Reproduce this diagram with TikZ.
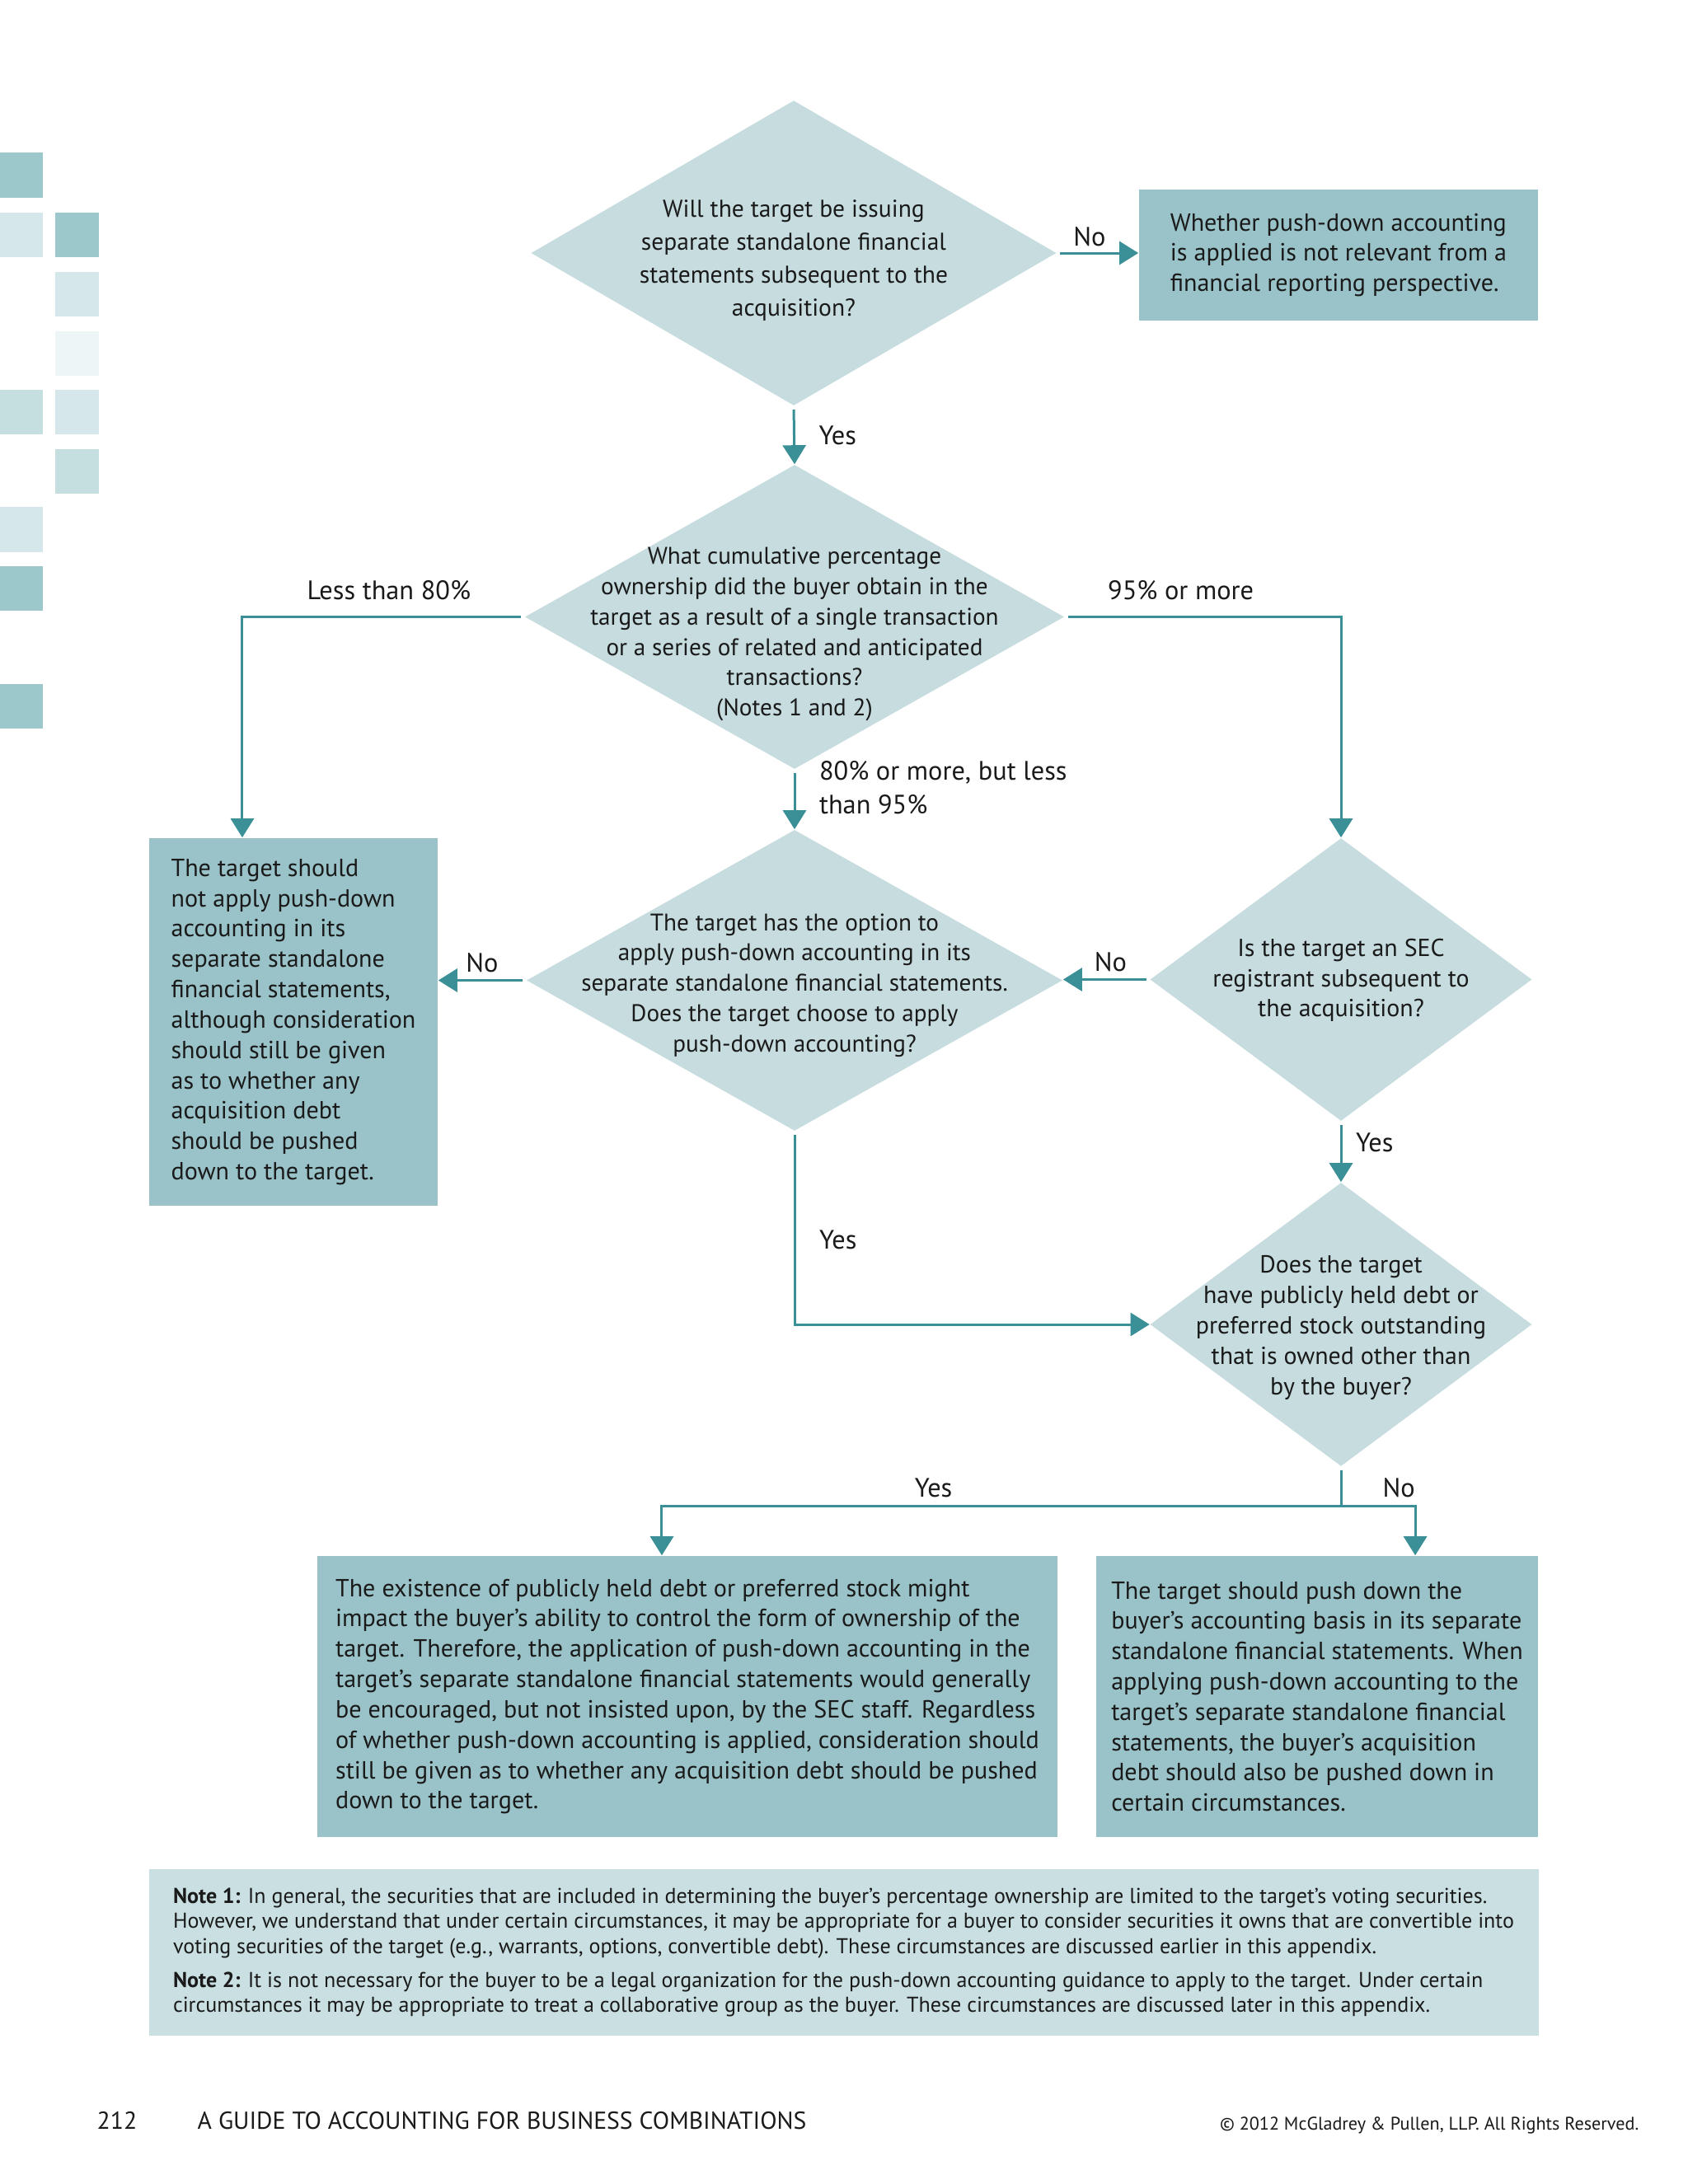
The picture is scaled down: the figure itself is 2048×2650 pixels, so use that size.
\documentclass[tikz,border=0pt]{standalone}
\usepackage{fontspec}
\setmainfont{PT Sans}
\usepackage{tikz}
\usetikzlibrary{positioning}
\usetikzlibrary{shapes,shapes.geometric,arrows.meta}
\definecolor{qfill}{HTML}{C6DCDF}
\definecolor{afill}{HTML}{99C3C8}
\definecolor{notefill}{HTML}{C9DFE1}
\definecolor{flowc}{HTML}{3A9096}
\definecolor{inktext}{HTML}{1A1A1A}
\definecolor{sqdark}{HTML}{9CC8CC}
\definecolor{sqmid}{HTML}{C5DEDF}
\definecolor{sqlight}{HTML}{D5E7EA}
\definecolor{sqpale}{HTML}{EEF5F6}
\newcommand{\qsize}{\fontsize{8.3}{10.47}\selectfont}
\newcommand{\qbigsize}{\fontsize{8.4}{11.4}\selectfont}
\newcommand{\qsecsize}{\fontsize{8.5}{10.47}\selectfont}
\newcommand{\boxsize}{\fontsize{8.55}{10.47}\selectfont}
\newcommand{\lblsize}{\fontsize{9.2}{11.7}\selectfont}
\newcommand{\notesize}{\fontsize{7.4}{8.65}\selectfont}
\newcommand{\footsize}{\fontsize{8.45}{10}\selectfont}
\newcommand{\copysize}{\fontsize{6.3}{7}\selectfont}
\tikzstyle{question} = [diamond, fill=qfill, draw=none, inner sep=0pt]
\tikzstyle{qtext}    = [align=center, font=\qsize, text=inktext]
\tikzstyle{outcome}  = [rectangle, fill=afill, draw=none, align=left, font=\boxsize, text=inktext, inner sep=0pt]
\tikzstyle{choice}   = [draw=none, fill=none, font=\lblsize, text=inktext, inner sep=1pt]
\tikzstyle{pagetext} = [draw=none, fill=none, text=inktext, inner sep=0pt]
\tikzstyle{flow}     = [draw=flowc, line width=0.03cm, -{Triangle[length=0.23cm,width=0.28cm]}]
\tikzstyle{qflow}    = [flow, shorten <=0.04cm]

\begin{document}
\begin{tikzpicture}[x=0.01cm, y=-0.01cm]
	% page
	\fill[white] (0,0) rectangle (2048,2650);
	\useasboundingbox (0,0) rectangle (2048,2650);

	% margin squares
	\fill[sqdark]  (0,185) rectangle (52,240);
	\fill[sqlight] (0,258) rectangle (52,312);
	\fill[sqdark]  (67,258) rectangle (120,312);
	\fill[sqlight] (67,330) rectangle (120,384);
	\fill[sqpale]  (67,402) rectangle (120,456);
	\fill[sqmid]   (0,473) rectangle (52,527);
	\fill[sqlight] (67,473) rectangle (120,527);
	\fill[sqmid]   (67,545) rectangle (120,599);
	\fill[sqlight] (0,615) rectangle (52,670);
	\fill[sqdark]  (0,687) rectangle (52,741);
	\fill[sqdark]  (0,830) rectangle (52,884);

	% questions
	\node [question, minimum width=6.37cm, minimum height=3.70cm,
	       label={[qtext, font=\qbigsize, yshift=-0.09cm]center:{Will the target be issuing\\separate standalone financial\\statements subsequent to the\\acquisition?}}]
	       (q1) at (963,307) {};
	\node [question, minimum width=6.54cm, minimum height=3.69cm,
	       label={[qtext, yshift=-0.21cm]center:{What cumulative percentage\\ownership did the buyer obtain in the\\target as a result of a single transaction\\or a series of related and anticipated\\transactions?\\(Notes 1 and 2)}}]
	       (q2) at (964,748.5) {};
	\node [question, minimum width=6.50cm, minimum height=3.65cm,
	       label={[qtext, yshift=-0.06cm]center:{The target has the option to\\apply push-down accounting in its\\separate standalone financial statements.\\Does the target choose to apply\\push-down accounting?}}]
	       (q3) at (964,1189.5) {};
	\node [question, minimum width=4.63cm, minimum height=3.43cm,
	       label={[qtext, font=\qsecsize, yshift=-0.01cm]center:{Is the target an SEC\\registrant subsequent to\\the acquisition?}}]
	       (q4) at (1627,1188.5) {};
	\node [question, minimum width=4.63cm, minimum height=3.44cm,
	       label={[qtext, font=\qsecsize, yshift=-0.04cm]center:{Does the target\\have publicly held debt or\\preferred stock outstanding\\that is owned other than\\by the buyer?}}]
	       (q5) at (1627,1607) {};

	% outcomes
	\node [outcome, minimum width=4.84cm, minimum height=1.59cm] (nrel) at (1624,309.5)
	      {Whether push-down accounting\\is applied is not relevant from a\\financial reporting perspective.};
	\node [outcome, minimum width=3.50cm, minimum height=4.46cm] (nopush) at (356,1240)
	      {The target should\\not apply push-down\\accounting in its\\separate standalone\\financial statements,\\although consideration\\should still be given\\as to whether any\\acquisition debt\\should be pushed\\down to the target.};
	\node [outcome, minimum width=8.98cm, minimum height=3.41cm] (pubdebt) at (834,2058.5)
	      {The existence of publicly held debt or preferred stock might\\impact the buyer’s ability to control the form of ownership of the\\target. Therefore, the application of push-down accounting in the\\target’s separate standalone financial statements would generally\\be encouraged, but not insisted upon, by the SEC staff. Regardless\\of whether push-down accounting is applied, consideration should\\still be given as to whether any acquisition debt should be pushed\\down to the target.};
	\node [outcome, minimum width=5.36cm, minimum height=3.41cm] (pushdown) at (1598,2058.5)
	      {The target should push down the\\buyer’s accounting basis in its separate\\standalone financial statements. When\\applying push-down accounting to the\\target’s separate standalone financial\\statements, the buyer’s acquisition\\debt should also be pushed down in\\certain circumstances.};

	% notes
	\node [outcome, fill=notefill, font=\notesize, minimum width=16.85cm, minimum height=2.02cm] (notes) at (1023.5,2369)
	      {\textbf{Note 1:} In general, the securities that are included in determining the buyer’s percentage ownership are limited to the target’s voting securities.\\However, we understand that under certain circumstances, it may be appropriate for a buyer to consider securities it owns that are convertible into\\voting securities of the target (e.g., warrants, options, convertible debt). These circumstances are discussed earlier in this appendix.\\[0.11cm]\textbf{Note 2:} It is not necessary for the buyer to be a legal organization for the push-down accounting guidance to apply to the target. Under certain\\circumstances it may be appropriate to treat a collaborative group as the buyer. These circumstances are discussed later in this appendix.};

	% draw edges
	\path [qflow] (q1.east) -- node[choice, above=0.03cm, pos=0.4] {No} (q1.east -| nrel.west);
	\path [qflow] (q1.south) -- node[choice, right=0.25cm] {Yes} (q2.north);
	\path [qflow] (q2.west) -| node[choice, above=0.16cm, pos=0.24] {Less than 80\%} ([xshift=-0.62cm]nopush.north);
	\path [qflow] (q2.east) -| node[choice, above=0.16cm, pos=0.21] {95\% or more} (q4.north);
	\path [qflow] (q2.south) -- node[choice, right=0.25cm, align=left, pos=0.3] {80\% or more, but less\\than 95\%} (q3.north);
	\path [qflow] (q3.west) -- node[choice, above=0.05cm] {No} (q3.west -| nopush.east);
	\path [qflow] (q4.west) -- node[choice, above=0.05cm, pos=0.45] {No} (q4.west -| q3.east);
	\path [qflow] (q4.south) -- node[choice, right=0.13cm, pos=0.35] {Yes} (q5.north);
	\path [qflow] (q3.south) |- node[choice, right=0.25cm, pos=0.28] {Yes} (q5.west);

	\coordinate (fork) at (1627,1827);
	\path [draw=flowc, line width=0.03cm, shorten <=0.04cm] (q5.south) -- (fork);
	\path [flow] (fork) -| node[choice, above=0.05cm, pos=0.3] {Yes} ([xshift=-0.31cm]pubdebt.north);
	\path [flow] (fork) -| node[choice, above=0.05cm, pos=0.39] {No} ([xshift=1.19cm]pushdown.north);

	% footer
	\node [pagetext, anchor=west, font=\footsize] (pageno) at (117,2573) {212};
	\node [pagetext, anchor=west, font=\footsize] (runhead) at (239,2573) {A GUIDE TO ACCOUNTING FOR BUSINESS COMBINATIONS};
	\node [pagetext, anchor=east, font=\copysize] (copyr) at (1989,2579) {© 2012 McGladrey \& Pullen, LLP. All Rights Reserved.};
\end{tikzpicture}
\end{document}
